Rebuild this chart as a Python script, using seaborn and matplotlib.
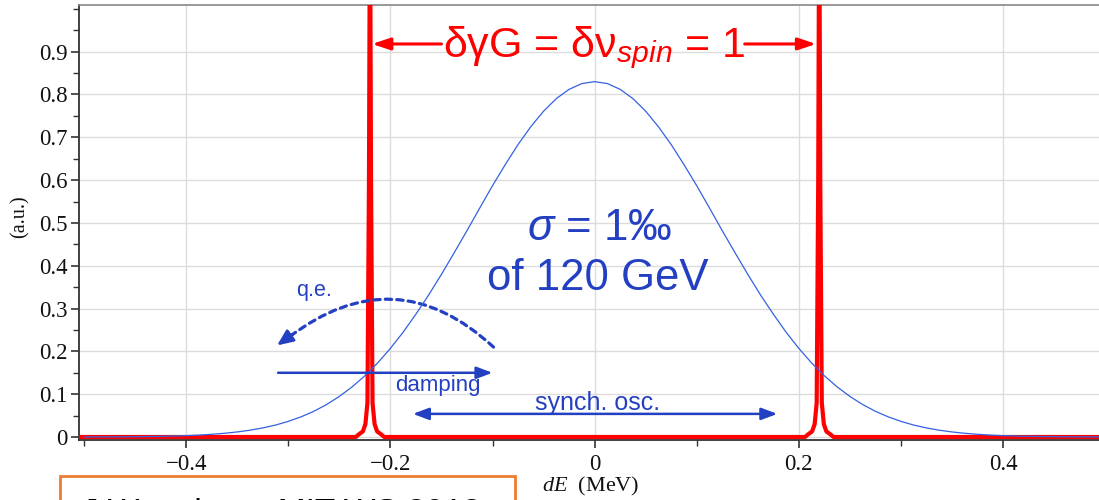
import numpy as np
import pandas as pd
import matplotlib
matplotlib.use("Agg")
import matplotlib.pyplot as plt
import matplotlib.ticker as mticker
from matplotlib.patches import Rectangle
import seaborn as sns

# ---------------- data ----------------
# beam energy distribution (blue), dE in MeV
dist_x = [-0.5000, -0.4875, -0.4750, -0.4625, -0.4500, -0.4375, -0.4250, -0.4125,
          -0.4000, -0.3875, -0.3750, -0.3625, -0.3500, -0.3375, -0.3250, -0.3125,
          -0.3000, -0.2875, -0.2750, -0.2625, -0.2500, -0.2375, -0.2250, -0.2125,
          -0.2000, -0.1875, -0.1750, -0.1625, -0.1500, -0.1375, -0.1250, -0.1125,
          -0.1000, -0.0875, -0.0750, -0.0625, -0.0500, -0.0375, -0.0250, -0.0125,
          0.0000,
          0.0125, 0.0250, 0.0375, 0.0500, 0.0625, 0.0750, 0.0875, 0.1000,
          0.1125, 0.1250, 0.1375, 0.1500, 0.1625, 0.1750, 0.1875, 0.2000,
          0.2125, 0.2250, 0.2375, 0.2500, 0.2625, 0.2750, 0.2875, 0.3000,
          0.3125, 0.3250, 0.3375, 0.3500, 0.3625, 0.3750, 0.3875, 0.4000,
          0.4125, 0.4250, 0.4375, 0.4500, 0.4625, 0.4750, 0.4875, 0.5000]
dist_y = [0.0001, 0.0002, 0.0003, 0.0005, 0.0007, 0.0011, 0.0016, 0.0023,
          0.0032, 0.0045, 0.0063, 0.0087, 0.0118, 0.0159, 0.0212, 0.0279,
          0.0365, 0.0471, 0.0600, 0.0759, 0.0948, 0.1171, 0.1430, 0.1730,
          0.2070, 0.2449, 0.2870, 0.3318, 0.3800, 0.4305, 0.4820, 0.5349,
          0.5870, 0.6363, 0.6830, 0.7247, 0.7610, 0.7904, 0.8120, 0.8255,
          0.8300,
          0.8255, 0.8120, 0.7904, 0.7610, 0.7247, 0.6830, 0.6363, 0.5870,
          0.5349, 0.4820, 0.4305, 0.3800, 0.3318, 0.2870, 0.2449, 0.2070,
          0.1730, 0.1430, 0.1171, 0.0948, 0.0759, 0.0600, 0.0471, 0.0365,
          0.0279, 0.0212, 0.0159, 0.0118, 0.0087, 0.0063, 0.0045, 0.0032,
          0.0023, 0.0016, 0.0011, 0.0007, 0.0005, 0.0003, 0.0002, 0.0001]

# depolarising resonances (red)
res_x = [-0.505, -0.234, -0.231, -0.227, -0.2245, -0.2225, -0.221, -0.220, -0.219,
         -0.2175, -0.2155, -0.213, -0.209, -0.206,
         0.206, 0.209, 0.213, 0.2155, 0.2175, 0.219, 0.220, 0.221, 0.2225, 0.2245,
         0.227, 0.231, 0.234, 0.505]
res_y = [0.0, 0.0, 0.006, 0.013, 0.030, 0.08, 0.60, 1.30, 0.60,
         0.08, 0.030, 0.013, 0.006, 0.0,
         0.0, 0.006, 0.013, 0.030, 0.08, 0.60, 1.30, 0.60, 0.08, 0.030,
         0.013, 0.006, 0.0, 0.0]

x_ticks = [-0.4, -0.2, 0.0, 0.2, 0.4]
x_tick_labels = ["\u22120.4", "\u22120.2", "0", "0.2", "0.4"]
y_ticks = [0.0, 0.1, 0.2, 0.3, 0.4, 0.5, 0.6, 0.7, 0.8, 0.9]
y_tick_labels = ["0", "0.1", "0.2", "0.3", "0.4", "0.5", "0.6", "0.7", "0.8", "0.9"]

# ---------------- style ----------------
sns.set_theme(style="white")
plt.rcParams["font.family"] = ["Liberation Serif", "DejaVu Serif"]
plt.rcParams["mathtext.fontset"] = "custom"
plt.rcParams["mathtext.it"] = "Liberation Serif:italic"
plt.rcParams["mathtext.rm"] = "Liberation Serif"
plt.rcParams["mathtext.sf"] = "Liberation Sans:italic"

RED = "#ff0000"
BLUE_LINE = "#3461e3"
BLUE_TXT = "#2440c2"
SANS = ["Liberation Sans", "DejaVu Sans"]

fig = plt.figure(figsize=(10.99, 5.0), dpi=100)
ax = fig.add_axes([79 / 1099, 60 / 500, 1 - 79 / 1099, 435 / 500])

df_res = pd.DataFrame({"dE": res_x, "val": res_y})
df_dist = pd.DataFrame({"dE": dist_x, "val": dist_y})
sns.lineplot(data=df_res, x="dE", y="val", ax=ax, color=RED, lw=3.0,
             sort=False, estimator=None, zorder=3)
sns.lineplot(data=df_dist, x="dE", y="val", ax=ax, color=BLUE_LINE, lw=0.9,
             sort=False, estimator=None, zorder=4)

ax.set_xlim(-0.505, 0.494)
ax.set_ylim(-0.007, 1.009)

ax.set_xticks(x_ticks)
ax.set_xticklabels(x_tick_labels)
ax.set_yticks(y_ticks)
ax.set_yticklabels(y_tick_labels)
ax.xaxis.set_minor_locator(mticker.MultipleLocator(0.1))
ax.yaxis.set_minor_locator(mticker.MultipleLocator(0.05))
ax.tick_params(axis="both", which="major", direction="out", length=6, width=1.2,
               color="#333333", labelsize=16.5, labelcolor="#111111",
               bottom=True, left=True)
ax.tick_params(axis="both", which="minor", direction="out", length=4, width=1.0,
               color="#333333", bottom=True, left=True)
ax.tick_params(axis="y", which="major", pad=2)
ax.tick_params(axis="x", which="major", pad=4)

ax.grid(True, which="major", color="#dcdcdc", lw=1.0)
ax.set_axisbelow(True)
for side in ["left", "bottom"]:
    ax.spines[side].set_color("#333333")
    ax.spines[side].set_linewidth(1.3)
ax.spines["top"].set_color("#888888")
ax.spines["top"].set_linewidth(1.2)
ax.spines["right"].set_visible(False)

ax.set_xlabel("")
ax.set_ylabel("")
fig.text(20 / 1099, 1 - 217 / 500, "(a.u.)", rotation=90, ha="center",
         va="center", fontsize=14.5, color="#111111")
fig.text(591 / 1099, 1 - 486 / 500, r"$dE$  (MeV)", ha="center", va="center",
         fontsize=16, color="#111111")

# ---------------- annotations ----------------
ax.text(0.0, 0.886, r"δγG = δν$_{\mathsf{spin}}$ = 1", ha="center",
        va="baseline", fontsize=31, color=RED, family=SANS, zorder=6)
ax.annotate("", xy=(-0.218, 0.918), xytext=(-0.150, 0.918),
            arrowprops=dict(arrowstyle="-|>,head_length=0.9,head_width=0.3",
                            color=RED, lw=2.2, shrinkA=0, shrinkB=0))
ax.annotate("", xy=(0.217, 0.918), xytext=(0.147, 0.918),
            arrowprops=dict(arrowstyle="-|>,head_length=0.9,head_width=0.3",
                            color=RED, lw=2.2, shrinkA=0, shrinkB=0))

ax.text(0.005, 0.460, r"$\mathsf{σ}$ = 1‰", ha="center", va="baseline",
        fontsize=31.5, color=BLUE_TXT, family=SANS, zorder=6)
ax.text(0.003, 0.343, "of 120 GeV", ha="center", va="baseline",
        fontsize=31.5, color=BLUE_TXT, family=SANS, zorder=6)

# q.e. dashed arc
ax.text(-0.275, 0.343, "q.e.", ha="center", va="center", fontsize=15.5,
        color=BLUE_TXT, family=SANS)
ax.annotate("", xy=(-0.300, 0.232), xytext=(-0.099, 0.210),
            arrowprops=dict(arrowstyle="-", color=BLUE_TXT, lw=2.3,
                            linestyle=(0, (2.0, 1.6)),
                            connectionstyle="arc3,rad=0.42",
                            shrinkA=0, shrinkB=0))
ax.annotate("", xy=(-0.311, 0.214), xytext=(-0.296, 0.240),
            arrowprops=dict(arrowstyle="-|>,head_length=0.8,head_width=0.35",
                            color=BLUE_TXT, lw=2.0, shrinkA=0, shrinkB=0))

# damping arrow
ax.annotate("", xy=(-0.100, 0.150), xytext=(-0.310, 0.150),
            arrowprops=dict(arrowstyle="-|>,head_length=0.8,head_width=0.3",
                            color=BLUE_TXT, lw=1.8, shrinkA=0, shrinkB=0),
            zorder=5)
ax.text(-0.154, 0.121, "damping", ha="center", va="center", fontsize=16,
        color=BLUE_TXT, family=SANS)

# synchrotron oscillation arrow
ax.annotate("", xy=(0.179, 0.054), xytext=(-0.178, 0.054),
            arrowprops=dict(arrowstyle="<|-|>,head_length=0.8,head_width=0.3",
                            color=BLUE_TXT, lw=1.8, shrinkA=0, shrinkB=0))
ax.text(0.003, 0.079, "synch. osc.", ha="center", va="center", fontsize=18,
        color=BLUE_TXT, family=SANS)

# orange credit box (cut by the bottom of the image)
box = Rectangle((60 / 1099, -0.1), (515 - 60) / 1099, 0.1 + 24 / 500,
                transform=fig.transFigure, facecolor="white",
                edgecolor="#ed7d31", lw=2.0, clip_on=False, zorder=10)
fig.patches.append(box)
fig.text(82 / 1099, -0.0445, "J.Wenninger MIT WS 2012", ha="left",
         va="baseline", fontsize=24, color="black", family=SANS, zorder=11)

fig.savefig("out.png", dpi=100, facecolor="white")
